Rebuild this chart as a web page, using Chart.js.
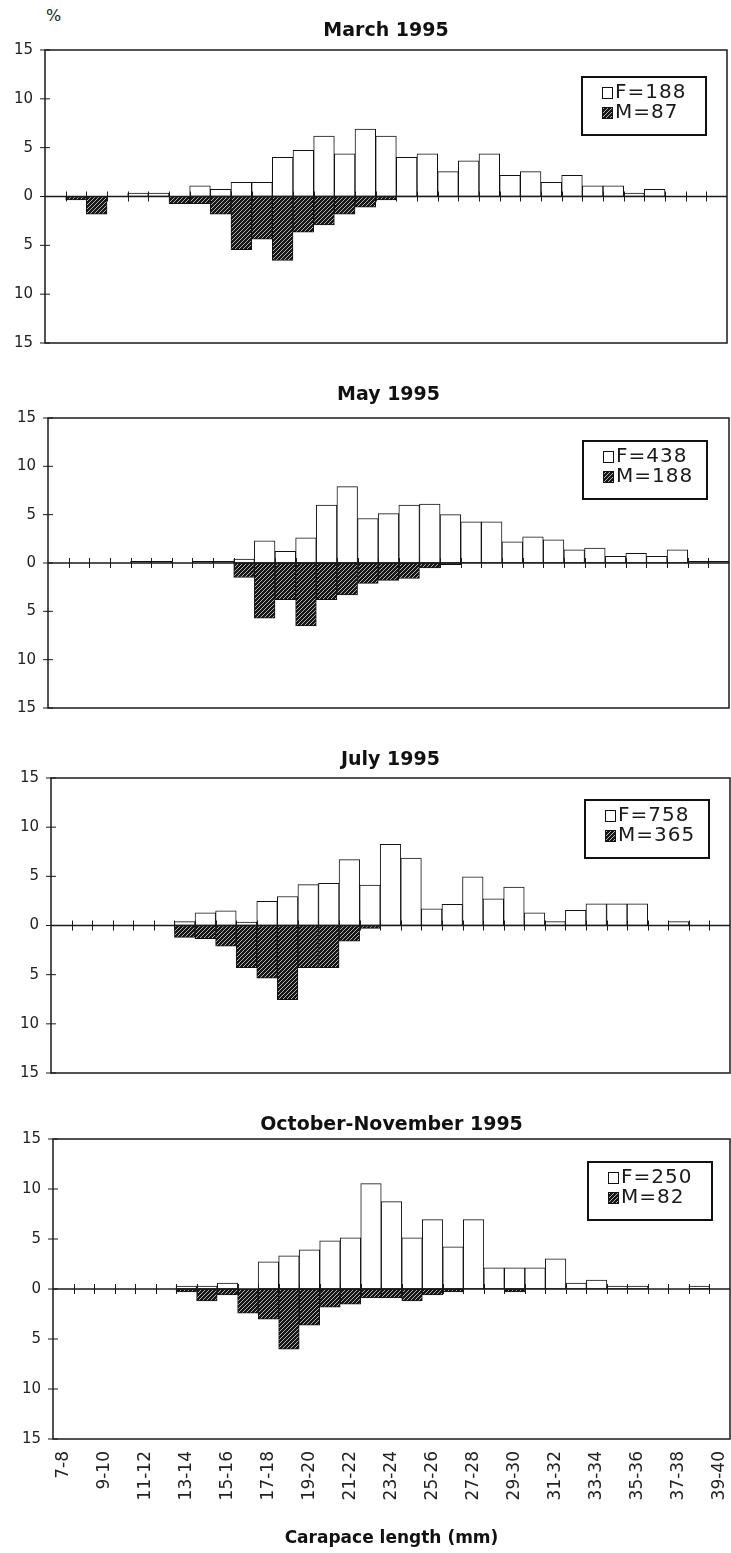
<!DOCTYPE html>
<html lang="en">
<head>
<meta charset="UTF-8" />
<title>Carapace length frequency, 1995</title>
<style>
  body {
    margin: 0;
    background: #fff;
    width: 731px;
    height: 1553px;
    position: relative;
    overflow: hidden;
    font-family: 'DejaVu Sans', sans-serif;
    color: #222;
  }
  .panel {
    position: absolute;
    left: 0;
    width: 731px;
  }
  .pct {
    position: absolute;
    left: 46px;
    top: 6px;
    font-size: 16px;
  }
</style>
</head>
<body>

<div class="pct">%</div>
<div class="panel" style="top:0px;height:360px"><canvas id="c0"></canvas></div>
<div class="panel" style="top:370px;height:350px"><canvas id="c1"></canvas></div>
<div class="panel" style="top:730px;height:360px"><canvas id="c2"></canvas></div>
<div class="panel" style="top:1095px;height:458px"><canvas id="c3"></canvas></div>

<script src="https://cdn.jsdelivr.net/npm/chart.js"></script>
<script>
  // carapace length classes (mm)
  const sizeClasses = [
    "7-8", "8-9", "9-10", "10-11", "11-12", "12-13", "13-14", "14-15", "15-16",
    "16-17", "17-18", "18-19", "19-20", "20-21", "21-22", "22-23", "23-24",
    "24-25", "25-26", "26-27", "27-28", "28-29", "29-30", "30-31", "31-32",
    "32-33", "33-34", "34-35", "35-36", "36-37", "37-38", "38-39", "39-40"
  ];

  const panelTitles = ["March 1995", "May 1995", "July 1995", "October-November 1995"];
  const femaleN = [188, 438, 758, 250];
  const maleN = [87, 188, 365, 82];

  // % of sample per class, females up / males down
  const marchF = [0, 0, 0, 0, 0.36, 0.36, 0, 1.09, 0.73, 1.45, 1.45, 4.0, 4.73, 6.18, 4.36, 6.91, 6.18,
                  4.0, 4.36, 2.55, 3.64, 4.36, 2.18, 2.55, 1.45, 2.18, 1.09, 1.09, 0.36, 0.73, 0, 0, 0];
  const marchM = [0, 0.36, 1.82, 0, 0, 0, 0.73, 0.73, 1.82, 5.45, 4.36, 6.55, 3.64, 2.91, 1.82, 1.09, 0.36,
                  0, 0, 0, 0, 0, 0, 0, 0, 0, 0, 0, 0, 0, 0, 0, 0];

  const mayF = [0, 0, 0, 0, 0.16, 0.16, 0, 0.16, 0.16, 0.4, 2.3, 1.2, 2.6, 6.0, 7.9, 4.6, 5.1,
                6.0, 6.1, 5.0, 4.25, 4.25, 2.2, 2.7, 2.4, 1.35, 1.55, 0.7, 1.0, 0.7, 1.35, 0.16, 0.16];
  const mayM = [0, 0, 0, 0, 0, 0, 0, 0, 0, 1.5, 5.7, 3.8, 6.5, 3.8, 3.3, 2.1, 1.8,
                1.6, 0.5, 0.16, 0, 0, 0, 0, 0, 0, 0, 0, 0, 0, 0, 0, 0];

  const julyF = [0, 0, 0, 0, 0, 0, 0.4, 1.3, 1.5, 0.35, 2.45, 2.95, 4.15, 4.3, 6.7, 4.1, 8.25,
                 6.85, 1.7, 2.15, 4.95, 2.7, 3.9, 1.3, 0.4, 1.55, 2.2, 2.2, 2.2, 0, 0.4, 0, 0];
  const julyM = [0, 0, 0, 0, 0, 0, 1.2, 1.35, 2.1, 4.3, 5.35, 7.55, 4.3, 4.3, 1.6, 0.3, 0,
                 0, 0, 0, 0, 0, 0, 0, 0, 0, 0, 0, 0, 0, 0, 0, 0];

  const octF = [0, 0, 0, 0, 0, 0, 0.3, 0.3, 0.6, 0, 2.71, 3.31, 3.92, 4.82, 5.12, 10.54, 8.73,
                5.12, 6.93, 4.22, 6.93, 2.11, 2.11, 2.11, 3.01, 0.6, 0.9, 0.3, 0.3, 0, 0, 0.3, 0];
  const octM = [0, 0, 0, 0, 0, 0, 0.3, 1.2, 0.6, 2.41, 3.01, 6.02, 3.61, 1.81, 1.51, 0.9, 0.9,
                1.2, 0.6, 0.3, 0, 0, 0.3, 0, 0, 0, 0, 0, 0, 0, 0, 0, 0];

  const femaleSeries = [marchF, mayF, julyF, octF];
  const maleSeries = [marchM, mayM, julyM, octM];

  Chart.defaults.font.family = "'DejaVu Sans', sans-serif";
  Chart.defaults.color = "#222";

  function makeHatch() {
    const c = document.createElement("canvas");
    c.width = 4;
    c.height = 4;
    const g = c.getContext("2d");
    g.fillStyle = "#161616";
    g.fillRect(0, 0, 4, 4);
    g.strokeStyle = "#b4b4b4";
    g.lineWidth = 1;
    g.beginPath();
    g.moveTo(0, 4); g.lineTo(4, 0);
    g.moveTo(-1, 1); g.lineTo(1, -1);
    g.moveTo(3, 5); g.lineTo(5, 3);
    g.stroke();
    return g.createPattern(c, "repeat");
  }
  const hatch = makeHatch();

  // frame, zero line, small ticks and the boxed legend
  const framePlugin = {
    id: "boxLegend",
    afterDraw(chart, args, opts) {
      const { ctx, chartArea: a, scales: { x, y } } = chart;
      ctx.save();
      ctx.strokeStyle = "#1a1a1a";
      ctx.lineWidth = 1.5;
      ctx.strokeRect(a.left, a.top, a.right - a.left, a.bottom - a.top);

      const y0 = y.getPixelForValue(0);
      ctx.beginPath();
      ctx.moveTo(a.left, y0);
      ctx.lineTo(a.right, y0);
      ctx.stroke();

      ctx.lineWidth = 1;
      ctx.beginPath();
      const step = x.getPixelForValue(1) - x.getPixelForValue(0);
      for (let i = 1; i < chart.data.labels.length; i++) {
        const bx = Math.round(x.getPixelForValue(i) - step / 2) + 0.5;
        ctx.moveTo(bx, y0 - 5);
        ctx.lineTo(bx, y0 + 5);
      }
      y.ticks.forEach(t => {
        const py = y.getPixelForValue(t.value);
        ctx.moveTo(a.left - 5, py);
        ctx.lineTo(a.left + 5, py);
      });
      ctx.stroke();

      // legend box
      const bw = 124, bh = 58;
      const bx = a.right - opts.right - bw;
      const by = a.top + opts.top;
      ctx.fillStyle = "#fff";
      ctx.fillRect(bx, by, bw, bh);
      ctx.lineWidth = 2;
      ctx.strokeStyle = "#111";
      ctx.strokeRect(bx, by, bw, bh);

      ctx.font = "20px 'DejaVu Sans', sans-serif";
      ctx.letterSpacing = "1px";
      ctx.textBaseline = "middle";
      ctx.textAlign = "left";
      chart.data.datasets.forEach((ds, i) => {
        const cy = by + 15 + i * 20;
        ctx.fillStyle = ds.backgroundColor;
        ctx.fillRect(bx + 20, cy - 5, 10, 11);
        ctx.lineWidth = 1;
        ctx.strokeStyle = "#111";
        ctx.strokeRect(bx + 20.5, cy - 4.5, 10, 11);
        ctx.fillStyle = "#1a1a1a";
        ctx.fillText(ds.label, bx + 33, cy + 1);
      });
      ctx.restore();
    }
  };

  // page placement of each panel
  const panelLayout = [
    { id: "c0", yWidth: 45, padR: 4, xHeight: 17, tTop: 19.6, tBottom: 7.6, legTop: 27, legRight: 21 },
    { id: "c1", yWidth: 48, padR: 2, xHeight: 12, tTop: 13.6, tBottom: 11.6, legTop: 23, legRight: 22 },
    { id: "c2", yWidth: 51, padR: 1, xHeight: 17, tTop: 18.6, tBottom: 6.6, legTop: 22, legRight: 21 },
    { id: "c3", yWidth: 53, padR: 1, xHeight: 114, tTop: 18.6, tBottom: 2.6, legTop: 23, legRight: 18 }
  ];

  panelLayout.forEach((p, k) => {
    const last = k === panelLayout.length - 1;
    new Chart(document.getElementById(p.id), {
      type: "bar",
      data: {
        labels: sizeClasses,
        datasets: [
          {
            label: "F=" + femaleN[k],
            data: femaleSeries[k].map(v => (v === 0 ? null : v)),
            backgroundColor: "#ffffff",
            borderColor: "#111",
            borderWidth: 1,
            borderSkipped: false,
            barPercentage: 1,
            categoryPercentage: 1
          },
          {
            label: "M=" + maleN[k],
            data: maleSeries[k].map(v => (v === 0 ? null : -v)),
            backgroundColor: hatch,
            borderColor: "#111",
            borderWidth: 1,
            borderSkipped: false,
            barPercentage: 1,
            categoryPercentage: 1
          }
        ]
      },
      options: {
        responsive: true,
        maintainAspectRatio: false,
        animation: false,
        layout: { padding: { left: 0, right: p.padR, top: 0, bottom: 0 } },
        plugins: {
          legend: { display: false },
          tooltip: { enabled: false },
          title: {
            display: true,
            text: panelTitles[k],
            fullSize: false,
            color: "#111",
            font: { size: 19, weight: "bold" },
            padding: { top: p.tTop, bottom: p.tBottom }
          },
          boxLegend: { top: p.legTop, right: p.legRight }
        },
        scales: {
          x: {
            stacked: true,
            grid: { display: false, drawTicks: false },
            border: { display: false },
            afterFit: s => {
              s.height = p.xHeight;
              s.paddingLeft = 0;
              s.paddingRight = 0;
            },
            ticks: {
              display: last,
              autoSkip: false,
              minRotation: 90,
              maxRotation: 90,
              padding: 12,
              color: "#222",
              font: { size: 17 },
              callback: (v, i) => (i % 2 === 0 ? sizeClasses[i] : "")
            },
            title: {
              display: last,
              text: "Carapace length (mm)",
              color: "#111",
              font: { size: 17, weight: "bold" },
              padding: { top: 0, bottom: 4 }
            }
          },
          y: {
            stacked: true,
            min: -15,
            max: 15,
            grid: { display: false, drawTicks: false },
            border: { display: false },
            afterFit: s => {
              s.width = p.yWidth;
              s.paddingTop = 0;
              s.paddingBottom = 0;
            },
            ticks: {
              stepSize: 5,
              padding: 12,
              color: "#222",
              font: { size: 15 },
              callback: v => Math.abs(v)
            }
          }
        }
      },
      plugins: [framePlugin]
    });
  });
</script>
</body>
</html>
